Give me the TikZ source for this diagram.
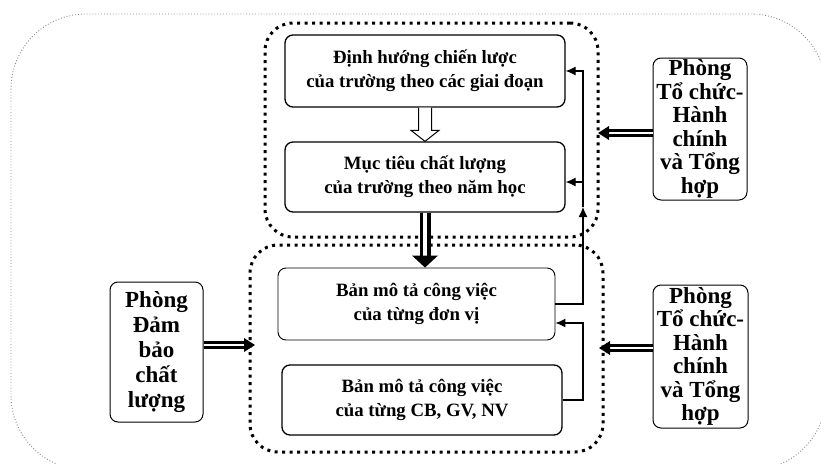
\documentclass[tikz,border=0pt]{standalone}
\usepackage{fontspec}
\setmainfont{Liberation Serif}
\usetikzlibrary{arrows.meta,calc}
\begin{document}
\begin{tikzpicture}[x=1pt,y=-1pt,
 mainbox/.style={draw, line width=1.3pt, rounded corners=8pt, align=center,
   font=\fontsize{18.8}{24}\selectfont\bfseries, inner sep=0pt},
 sidebox/.style={draw, line width=1pt, rounded corners=8pt, align=center,
   font=\fontsize{23}{23.5}\selectfont\bfseries, inner sep=0pt},
 groupbox/.style={draw, line width=3pt, dash pattern=on 3pt off 4.5pt, rounded corners=28pt, inner sep=0pt},
 thinarrow/.style={line width=1.1pt, -{Latex[length=10pt,width=9pt]}},
 dshaft/.style={line width=2.5pt, double=white, double distance=2.5pt},
 bigshaft/.style={line width=3.5pt, double=white, double distance=4pt},
]
\useasboundingbox (0,0) rectangle (821,463);
\fill[white] (0,0) rectangle (821,463);
% outer frame
\draw[black!45, line width=0.9pt, dash pattern=on 0.9pt off 2pt, rounded corners=75pt] (11,14) rectangle (826,470);

% groups
\node[groupbox, minimum width=333pt, minimum height=214pt] (g1) at (431.5,130) {};
\node[groupbox, minimum width=353pt, minimum height=207pt] (g2) at (426.5,348.5) {};

% main boxes
\node[mainbox, minimum width=280pt, minimum height=72pt] (b1) at (425,71) {Định hướng chiến lược\\của trường theo các giai đoạn};
\node[mainbox, minimum width=280pt, minimum height=70pt] (b2) at (425,177) {Mục tiêu chất lượng\\của trường theo năm học};
\node[mainbox, line width=0.9pt, minimum width=277pt, minimum height=72pt] (b3) at (416.5,304) {Bản mô tả công việc\\của từng đơn vị};
\node[mainbox, minimum width=280pt, minimum height=70pt] (b4) at (422,400) {Bản mô tả công việc\\của từng CB, GV, NV};

% side boxes
\node[sidebox, minimum width=94pt, minimum height=142pt] (r1) at (700,129) {Phòng\\Tổ chức-\\Hành\\chính\\và Tổng\\hợp};
\node[sidebox, minimum width=95pt, minimum height=143pt] (r2) at (700.5,356.5) {Phòng\\Tổ chức-\\Hành\\chính\\và Tổng\\hợp};
\node[sidebox, font=\fontsize{23}{25}\selectfont\bfseries, minimum width=93pt, minimum height=140pt] (l1) at (156.5,352) {Phòng\\Đảm\\bảo\\chất\\lượng};

% hollow arrow b1 -> b2
\draw[line width=1pt, fill=white]
  ($(b1.south)+(-6.5,0)$) -- ($(b2.north)+(-6.5,-11)$) -- ($(b2.north)+(-14,-11)$)
  -- (b2.north) -- ($(b2.north)+(14,-11)$) -- ($(b2.north)+(6.5,-11)$) -- ($(b1.south)+(6.5,0)$);

% thick double arrow b2 -> b3
\coordinate (tb) at (b2.south |- b3.north);
\draw[bigshaft] (b2.south) -- ($(tb)+(0,-11)$);
\fill ($(tb)+(-13,-12)$) -- (tb) -- ($(tb)+(13,-12)$) -- cycle;

% side double arrows
\coordinate (t1) at (598,133);
\draw[dshaft] (r1.west |- t1) -- ($(t1)+(10,0)$);
\fill ($(t1)+(11,-7)$) -- (t1) -- ($(t1)+(11,7)$) -- cycle;

\coordinate (t2) at (599,348);
\draw[dshaft] (r2.west |- t2) -- ($(t2)+(10,0)$);
\fill ($(t2)+(11,-7)$) -- (t2) -- ($(t2)+(11,7)$) -- cycle;

\coordinate (t3) at (255,345);
\draw[dshaft] (l1.east |- t3) -- ($(t3)+(-10,0)$);
\fill ($(t3)+(-11,-7)$) -- (t3) -- ($(t3)+(-11,7)$) -- cycle;

% thin connectors
\coordinate (j1) at (583,323);
\draw[thinarrow] (b4.east) -| (j1) -- (j1 -| b3.east);
\coordinate (jm) at (583,207);
\draw[thinarrow] (b3.east) -| (jm);
\draw[thinarrow] (jm) |- (b1.east);
\coordinate (j3) at (583,182);
\draw[thinarrow] (j3) -- (j3 -| b2.east);
\end{tikzpicture}
\end{document}
